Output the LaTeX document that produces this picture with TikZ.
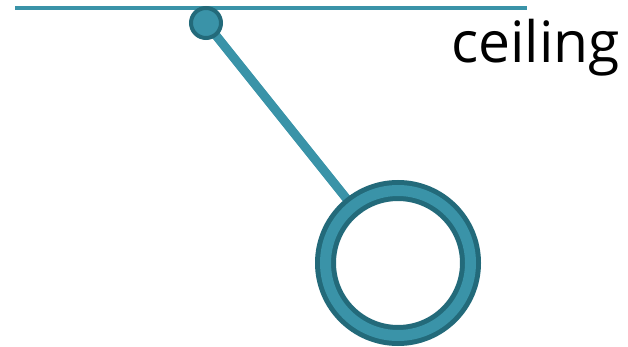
\documentclass[tikz,border=0pt]{standalone}
\usepackage{fontspec}
\setmainfont{Open Sans}
\usetikzlibrary{calc}
\definecolor{penlight}{HTML}{3A93A8}
\definecolor{pendark}{HTML}{236A7A}
\begin{document}
\begin{tikzpicture}[x=1pt,y=-1pt,
  rod/.style={draw=penlight,line width=9pt},
  beam/.style={draw=penlight,line width=4.5pt}]
  \useasboundingbox (0,0) rectangle (628,347);
  \coordinate (pivot) at (206,23);
  \coordinate (ring) at (398,263);
  \draw[beam] (15,8) -- (527,8);
  \draw[rod] (pivot) -- (ring);
  \fill[white] (ring) circle (62);
  \draw[pendark,line width=21pt] (ring) circle (72.5);
  \draw[penlight,line width=11pt] (ring) circle (72.5);
  \fill[penlight,draw=pendark,line width=4pt] (pivot) circle (15);
  \node[anchor=base west,inner sep=0pt,font=\fontsize{57}{60}\selectfont] (label) at (451,63) {ceiling};
\end{tikzpicture}
\end{document}
